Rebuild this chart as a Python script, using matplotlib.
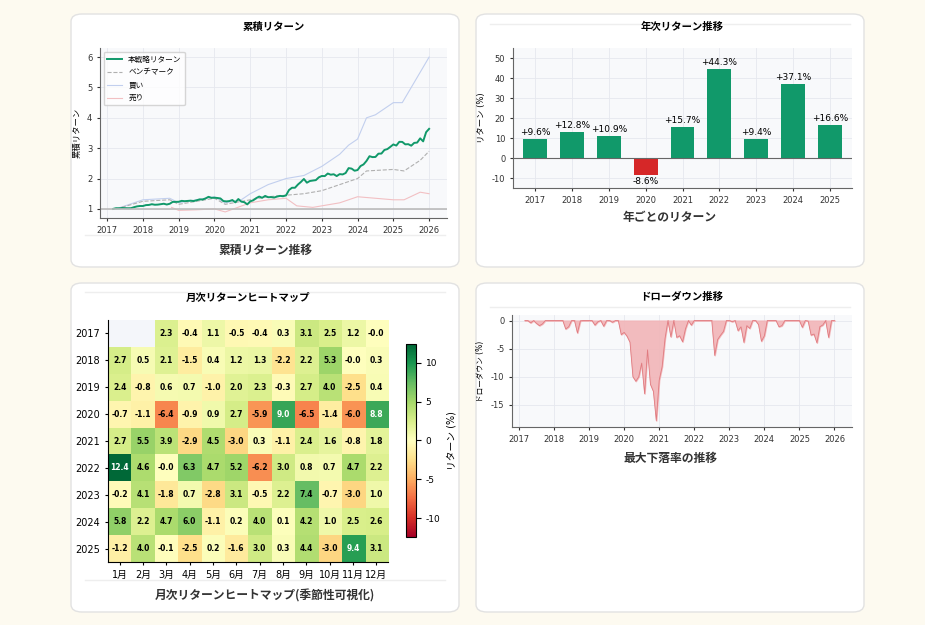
import numpy as np
import pandas as pd
import matplotlib
matplotlib.use("Agg")
import matplotlib.pyplot as plt
from matplotlib.patches import FancyBboxPatch

plt.rcParams['font.family'] = ['DejaVu Sans', 'Noto Sans CJK JP']
plt.rcParams['axes.unicode_minus'] = False

years = [2017, 2018, 2019, 2020, 2021, 2022, 2023, 2024, 2025]
months = ["1月","2月","3月","4月","5月","6月","7月","8月","9月","10月","11月","12月"]
monthly = [
    [np.nan, np.nan, 2.3, -0.4, 1.1, -0.5, -0.4, 0.3, 3.1, 2.5, 1.2, -0.0],
    [2.7, 0.5, 2.1, -1.5, 0.4, 1.2, 1.3, -2.2, 2.2, 5.3, -0.0, 0.3],
    [2.4, -0.8, 0.6, 0.7, -1.0, 2.0, 2.3, -0.3, 2.7, 4.0, -2.5, 0.4],
    [-0.7, -1.1, -6.4, -0.9, 0.9, 2.7, -5.9, 9.0, -6.5, -1.4, -6.0, 8.8],
    [2.7, 5.5, 3.9, -2.9, 4.5, -3.0, 0.3, -1.1, 2.4, 1.6, -0.8, 1.8],
    [12.4, 4.6, -0.0, 6.3, 4.7, 5.2, -6.2, 3.0, 0.8, 0.7, 4.7, 2.2],
    [-0.2, 4.1, -1.8, 0.7, -2.8, 3.1, -0.5, 2.2, 7.4, -0.7, -3.0, 1.0],
    [5.8, 2.2, 4.7, 6.0, -1.1, 0.2, 4.0, 0.1, 4.2, 1.0, 2.5, 2.6],
    [-1.2, 4.0, -0.1, -2.5, 0.2, -1.6, 3.0, 0.3, 4.4, -3.0, 9.4, 3.1],
]
annual = [9.6, 12.8, 10.9, -8.6, 15.7, 44.3, 9.4, 37.1, 16.6]

bench_t = [2017.25, 2018.0, 2018.75, 2019.0, 2020.0, 2020.3, 2021.0, 2021.5, 2022.0, 2022.5, 2023.0, 2023.5, 2024.0, 2024.25, 2025.0, 2025.3, 2025.75, 2026.0]
bench_v = [1.0, 1.25, 1.3, 1.15, 1.35, 1.15, 1.3, 1.4, 1.45, 1.5, 1.6, 1.8, 2.0, 2.25, 2.3, 2.25, 2.6, 2.9]
buy_t = [2017.25, 2018.0, 2018.75, 2019.0, 2019.5, 2020.0, 2020.3, 2020.75, 2021.0, 2021.5, 2022.0, 2022.5, 2023.0, 2023.5, 2023.75, 2024.0, 2024.25, 2024.5, 2025.0, 2025.25, 2025.5, 2025.75, 2026.0]
buy_v = [1.0, 1.3, 1.35, 1.2, 1.3, 1.4, 1.2, 1.3, 1.5, 1.8, 2.0, 2.1, 2.4, 2.8, 3.1, 3.3, 4.0, 4.1, 4.5, 4.5, 5.0, 5.5, 6.0]
sell_t = [2018.8, 2019.0, 2019.5, 2020.0, 2020.3, 2021.0, 2021.5, 2022.0, 2022.3, 2022.75, 2023.0, 2023.5, 2024.0, 2024.5, 2025.0, 2025.3, 2025.75, 2026.0]
sell_v = [1.05, 0.95, 0.97, 1.0, 0.9, 1.2, 1.3, 1.35, 1.1, 1.05, 1.1, 1.2, 1.4, 1.35, 1.3, 1.3, 1.55, 1.5]

# strategy cumulative from monthly returns
rets, times = [], []
for yi, y in enumerate(years):
    for mi in range(12):
        v = monthly[yi][mi]
        if not np.isnan(v):
            rets.append(v / 100)
            times.append(y + (mi + 1) / 12)
t_strat = [2017 + 2 / 12] + times
cum = np.concatenate([[1.0], np.cumprod(1 + np.array(rets))])
dd = (cum / np.maximum.accumulate(cum) - 1) * 100

W, H = 925, 625
fig = plt.figure(figsize=(W / 100, H / 100), dpi=100)
fig.patch.set_facecolor('#fdfaf0')

def card(x0, y0, x1, y1):
    p = FancyBboxPatch((x0 / W, 1 - y1 / H), (x1 - x0) / W, (y1 - y0) / H,
                       boxstyle="round,pad=0,rounding_size=0.012", transform=fig.transFigure,
                       facecolor='white', edgecolor='#e2e2e2', linewidth=1, zorder=-5)
    fig.add_artist(p)

def ax_at(x0, y0, x1, y1):
    return fig.add_axes([x0 / W, 1 - y1 / H, (x1 - x0) / W, (y1 - y0) / H])

def sep(x0, x1, y):
    fig.add_artist(plt.Line2D([x0 / W, x1 / W], [1 - y / H] * 2, color='#eeeeee', lw=1, zorder=-4))

card(71, 14, 459, 267); card(476, 14, 864, 267)
card(71, 283, 459, 612); card(476, 283, 864, 612)

def caption(x, y, s):
    fig.text(x / W, 1 - y / H, s, ha='center', va='center', fontsize=8.5, fontweight='bold', color='#333',
             family=['Noto Sans CJK JP', 'DejaVu Sans'])

def style(ax):
    ax.set_facecolor('#f8f9fb')
    ax.grid(True, color='#e6e8ee', lw=0.6)
    ax.set_axisbelow(True)
    for s in ['top', 'right']:
        ax.spines[s].set_visible(False)
    for s in ['left', 'bottom']:
        ax.spines[s].set_color('#666')
    ax.tick_params(labelsize=6, length=2, colors='#333')

# Cumulative
ax = ax_at(100, 48, 447, 218)
style(ax)
ax.plot(buy_t, buy_v, color='#c2cfee', lw=0.8, label='買い')
ax.plot(sell_t, sell_v, color='#f2c0c3', lw=0.8, label='売り')
ax.plot(bench_t, bench_v, color='#b0b0b0', lw=0.8, ls='--', label='ベンチマーク')
ax.plot(t_strat, cum, color='#11996a', lw=1.4, label='本戦略リターン')
ax.axhline(1, color='#bbbbbb', lw=1.2)
ax.set_xlim(2016.8, 2026.5); ax.set_ylim(0.7, 6.3)
ax.set_xticks(range(2017, 2027))
ax.set_ylabel('累積リターン', fontsize=6)
h, l = ax.get_legend_handles_labels()
ax.legend([h[3], h[2], h[0], h[1]], [l[3], l[2], l[0], l[1]], loc='upper left', fontsize=5.5, framealpha=0.8)
ax.set_title('累積リターン', fontsize=7.5, fontweight='bold', pad=13)
sep(85, 445, 235)
caption(265, 250, '累積リターン推移')

# Annual
ax = ax_at(513, 48, 852, 188)
style(ax)
cols = ['#11996a' if v >= 0 else '#d62728' for v in annual]
ax.bar(years, annual, color=cols, width=0.65)
ax.axhline(0, color='#666', lw=0.8)
for x, v in zip(years, annual):
    ax.text(x, v + (1 if v >= 0 else -1), f'{v:+.1f}%', ha='center', va='bottom' if v >= 0 else 'top', fontsize=6.5)
ax.set_xticks(years); ax.set_ylim(-15, 55); ax.set_xlim(2016.4, 2025.6)
ax.set_ylabel('リターン (%)', fontsize=6)
ax.set_title('年次リターン推移', fontsize=7.5, fontweight='bold', pad=13)
sep(490, 850, 24)
caption(670, 218, '年ごとのリターン')

# Heatmap
ax = ax_at(108, 320, 388, 562)
ax.set_facecolor('#f4f6fa')
arr = np.array(monthly)
im = ax.imshow(arr, cmap='RdYlGn', vmin=-12.4, vmax=12.4, aspect='auto')
for i in range(arr.shape[0]):
    for j in range(12):
        v = arr[i, j]
        if not np.isnan(v):
            ax.text(j, i, f'{v:.1f}', ha='center', va='center', fontsize=5.5, fontweight='bold',
                    color='white' if abs(v) > 8 else 'black')
ax.set_xticks(range(12)); ax.set_xticklabels(months)
ax.set_yticks(range(len(years))); ax.set_yticklabels(years)
ax.tick_params(labelsize=7, length=2)
for s in ['top', 'right']:
    ax.spines[s].set_visible(False)
ax.set_title('月次リターンヒートマップ', fontsize=7.5, fontweight='bold', pad=14)
cax = ax_at(406, 344, 416, 537)
cb = fig.colorbar(im, cax=cax)
cb.set_ticks([-10, -5, 0, 5, 10]); cb.ax.tick_params(labelsize=6.5)
cb.set_label('リターン (%)', fontsize=7)
sep(85, 445, 292); sep(85, 445, 580)
caption(265, 596, '月次リターンヒートマップ(季節性可視化)')

# Drawdown
ax = ax_at(512, 315, 852, 427)
style(ax)
ax.fill_between(t_strat, dd, 0, color='#f2b5b8', alpha=0.9)
ax.plot(t_strat, dd, color='#e07b80', lw=0.6)
ax.set_xlim(2016.8, 2026.5); ax.set_ylim(-19, 1)
ax.set_xticks(range(2017, 2027)); ax.set_yticks([0, -5, -10, -15])
ax.set_ylabel('ドローダウン (%)', fontsize=5.5)
ax.set_title('ドローダウン推移', fontsize=7.5, fontweight='bold', pad=11)
sep(490, 850, 307)
caption(670, 458, '最大下落率の推移')

fig.savefig('out.png', dpi=100, facecolor=fig.get_facecolor())
